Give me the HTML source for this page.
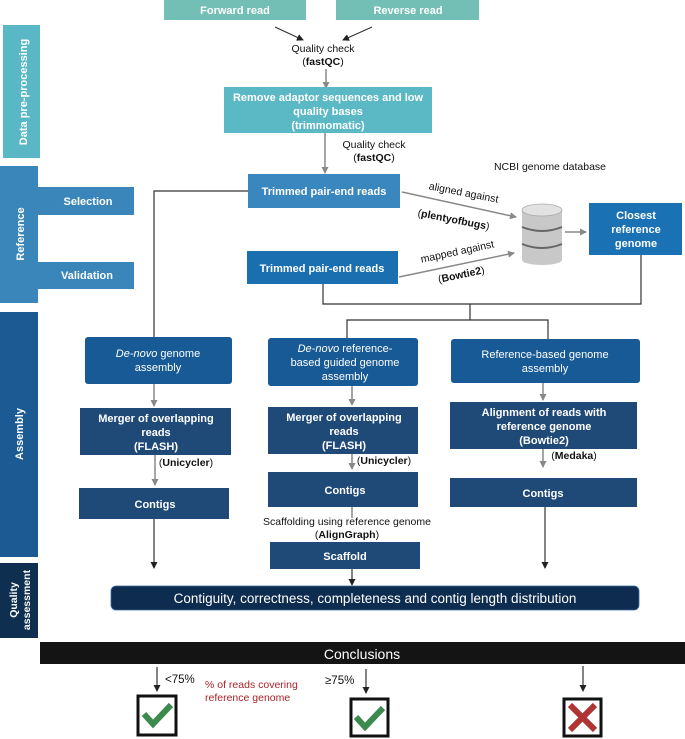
<!DOCTYPE html>
<html><head><meta charset="utf-8"><style>
body{margin:0;background:#fff;}
svg{display:block;font-family:"Liberation Sans",sans-serif;}
.w{fill:#fff;font-weight:bold;font-size:11px;text-anchor:middle}
.n{fill:#fff;font-size:11px;text-anchor:middle}
.k{fill:#111;font-size:10.5px;text-anchor:middle}
.b{font-weight:bold}
.ln{stroke:#333;stroke-width:1.2;fill:none}
.gr{stroke:#888;stroke-width:1.5;fill:none}
</style></head><body>
<svg width="685" height="739" viewBox="0 0 685 739">
<defs>
<marker id="a" markerWidth="8" markerHeight="8" refX="6" refY="4" orient="auto" markerUnits="userSpaceOnUse"><path d="M0,0.5 L7,4 L0,7.5z" fill="#222"/></marker>
<marker id="g" markerWidth="8" markerHeight="8" refX="6" refY="4" orient="auto" markerUnits="userSpaceOnUse"><path d="M0,0.5 L7,4 L0,7.5z" fill="#888"/></marker>
</defs>
<rect x="3" y="25" width="37" height="133" fill="#5ab8c6"/>
<text transform="translate(27,92) rotate(-90)" fill="#fff" font-size="11" font-weight="bold" text-anchor="middle">Data pre-processing</text>
<rect x="0" y="166" width="38" height="137" fill="#3a86bb"/>
<text transform="translate(24,234) rotate(-90)" fill="#fff" font-size="11" font-weight="bold" text-anchor="middle">Reference</text>
<rect x="38" y="187" width="96" height="28" fill="#3a86bb"/>
<text x="88" y="205" class="w">Selection</text>
<rect x="38" y="262" width="96" height="27" fill="#3a86bb"/>
<text x="87" y="279" class="w">Validation</text>
<rect x="0" y="312" width="38" height="245" fill="#1b5a93"/>
<text transform="translate(23,434) rotate(-90)" fill="#fff" font-size="11" font-weight="bold" text-anchor="middle">Assembly</text>
<rect x="0" y="563" width="38" height="75" fill="#0f2f50"/>
<text transform="translate(17,600) rotate(-90)" fill="#fff" font-size="10.5" font-weight="bold" text-anchor="middle">Quality</text>
<text transform="translate(30,600) rotate(-90)" fill="#fff" font-size="10.5" font-weight="bold" text-anchor="middle">assessment</text>
<rect x="164" y="0" width="142" height="20" fill="#73bfb6"/>
<text x="235" y="14" class="w">Forward read</text>
<rect x="336" y="0" width="143" height="20" fill="#73bfb6"/>
<text x="408" y="14" class="w">Reverse read</text>
<line x1="275" y1="27" x2="303" y2="40" class="ln" marker-end="url(#a)"/>
<line x1="372" y1="27" x2="343" y2="40" class="ln" marker-end="url(#a)"/>
<text x="323" y="52" class="k">Quality check</text>
<text x="323" y="65" class="k">(<tspan class="b">fastQC</tspan>)</text>
<line x1="326" y1="69" x2="326" y2="88" class="gr" marker-end="url(#g)"/>
<rect x="224" y="87" width="208" height="46" fill="#5bb8c5"/>
<text x="328" y="101" class="w">Remove adaptor sequences and low</text>
<text x="328" y="115" class="w">quality bases</text>
<text x="328" y="129" class="w">(trimmomatic)</text>
<line x1="325" y1="133" x2="325" y2="173" class="gr" marker-end="url(#g)"/>
<text x="374" y="148" class="k">Quality check</text>
<text x="374" y="161" class="k">(<tspan class="b">fastQC</tspan>)</text>
<text x="550" y="170" class="k">NCBI genome database</text>
<rect x="248" y="174" width="152" height="34" fill="#3a86be"/>
<text x="324" y="195" class="w">Trimmed pair-end reads</text>
<rect x="247" y="251" width="151" height="33" fill="#1a6fb0"/>
<text x="322" y="272" class="w">Trimmed pair-end reads</text>
<line x1="402" y1="192" x2="516" y2="217" class="gr" marker-end="url(#g)"/>
<line x1="399" y1="277" x2="514" y2="253" class="gr" marker-end="url(#g)"/>
<text transform="translate(463,196) rotate(11)" class="k">aligned against</text>
<text transform="translate(453,223) rotate(11)" class="k">(<tspan class="b">plentyofbugs</tspan>)</text>
<text transform="translate(458,255) rotate(-12)" class="k">mapped against</text>
<text transform="translate(462,278) rotate(-12)" class="k">(<tspan class="b">Bowtie2</tspan>)</text>
<rect x="522" y="210" width="40" height="50" fill="#c8c8c8"/>
<ellipse cx="542" cy="260" rx="20" ry="5" fill="#c8c8c8"/>
<ellipse cx="542" cy="210" rx="20" ry="6" fill="#e2e2e2" stroke="#aaa" stroke-width="0.8"/>
<path d="M522,227 Q542,235 562,227" stroke="#666" stroke-width="2" fill="none"/>
<path d="M522,244 Q542,252 562,244" stroke="#666" stroke-width="2" fill="none"/>
<line x1="565" y1="232" x2="586" y2="232" class="gr" marker-end="url(#g)"/>
<rect x="589" y="203" width="93" height="52" fill="#1a72b5"/>
<text x="636" y="219" class="w">Closest</text>
<text x="636" y="233" class="w">reference</text>
<text x="636" y="247" class="w">genome</text>
<polyline points="248,191 154,191 154,337" class="ln"/>
<polyline points="323,284 323,304 641,304 641,255" class="ln"/>
<line x1="470" y1="304" x2="470" y2="320" class="ln"/>
<polyline points="347,338 347,320 548,320 548,339" class="ln"/>
<rect x="85" y="337" width="147" height="47" rx="3" fill="#175a95"/>
<text x="158" y="357" class="n"><tspan font-style="italic">De-novo</tspan> genome</text>
<text x="158" y="371" class="n">assembly</text>
<rect x="268" y="338" width="150" height="48" rx="3" fill="#175a95"/>
<text x="345" y="352" class="n"><tspan font-style="italic">De-novo</tspan> reference-</text>
<text x="345" y="366" class="n">based guided genome</text>
<text x="345" y="380" class="n">assembly</text>
<rect x="451" y="339" width="189" height="44" rx="3" fill="#175a95"/>
<text x="545" y="358" class="n">Reference-based genome</text>
<text x="545" y="372" class="n">assembly</text>
<line x1="154" y1="384" x2="154" y2="406" class="gr" marker-end="url(#g)"/>
<line x1="352" y1="386" x2="352" y2="405" class="gr" marker-end="url(#g)"/>
<line x1="543" y1="383" x2="543" y2="400" class="gr" marker-end="url(#g)"/>
<rect x="80" y="408" width="151" height="47" fill="#1f4a78"/>
<text x="156" y="422" class="w">Merger of overlapping</text>
<text x="156" y="436" class="w">reads</text>
<text x="156" y="450" class="w">(FLASH)</text>
<rect x="268" y="407" width="150" height="47" fill="#1f4a78"/>
<text x="344" y="421" class="w">Merger of overlapping</text>
<text x="344" y="435" class="w">reads</text>
<text x="344" y="449" class="w">(FLASH)</text>
<rect x="450" y="402" width="187" height="47" fill="#1f4a78"/>
<text x="544" y="416" class="w">Alignment of reads with</text>
<text x="544" y="430" class="w">reference genome</text>
<text x="544" y="444" class="w">(Bowtie2)</text>
<line x1="155" y1="455" x2="155" y2="485" class="gr" marker-end="url(#g)"/>
<text x="186" y="466" class="k">(<tspan class="b">Unicycler</tspan>)</text>
<line x1="352" y1="454" x2="352" y2="469" class="gr" marker-end="url(#g)"/>
<text x="384" y="464" class="k">(<tspan class="b">Unicycler</tspan>)</text>
<line x1="543" y1="449" x2="543" y2="467" class="gr" marker-end="url(#g)"/>
<text x="574" y="459" class="k">(<tspan class="b">Medaka</tspan>)</text>
<rect x="79" y="488" width="150" height="31" fill="#1f4a78"/>
<text x="155" y="508" class="w">Contigs</text>
<rect x="268" y="472" width="150" height="35" fill="#1f4a78"/>
<text x="345" y="494" class="w">Contigs</text>
<rect x="450" y="478" width="187" height="29" fill="#1f4a78"/>
<text x="543" y="497" class="w">Contigs</text>
<line x1="352" y1="507" x2="352" y2="518" class="gr"/>
<text x="347" y="525" class="k">Scaffolding using reference genome</text>
<text x="347" y="538" class="k">(<tspan class="b">AlignGraph</tspan>)</text>
<rect x="270" y="542" width="150" height="27" fill="#1f4a78"/>
<text x="345" y="560" class="w">Scaffold</text>
<line x1="352" y1="569" x2="352" y2="585" class="ln" marker-end="url(#a)"/>
<line x1="154" y1="519" x2="154" y2="568" class="ln" marker-end="url(#a)"/>
<line x1="545" y1="507" x2="545" y2="568" class="ln" marker-end="url(#a)"/>
<rect x="111" y="586" width="528" height="24" rx="5" fill="#0d2c4f" stroke="#3a6ea0" stroke-width="0.8"/>
<text x="375" y="603" fill="#fff" font-size="13.5" text-anchor="middle">Contiguity, correctness, completeness and contig length distribution</text>
<rect x="40" y="642" width="645" height="22" fill="#141414"/>
<text x="362" y="659" fill="#fff" font-size="14" text-anchor="middle">Conclusions</text>
<line x1="157" y1="667" x2="157" y2="691" class="ln" marker-end="url(#a)"/>
<line x1="366" y1="669" x2="366" y2="693" class="ln" marker-end="url(#a)"/>
<line x1="583" y1="666" x2="583" y2="691" class="ln" marker-end="url(#a)"/>
<text x="165" y="683" fill="#111" font-size="11.5">&lt;75%</text>
<text x="325" y="684" fill="#111" font-size="11.5">≥75%</text>
<text x="205" y="688" fill="#a8222a" font-size="10.5">% of reads covering</text>
<text x="205" y="701" fill="#a8222a" font-size="10.5">reference genome</text>
<rect x="138" y="696" width="38" height="39" fill="#fff" stroke="#111" stroke-width="3"/>
<path d="M144,714 L153,724 L171,705" stroke="#3d8a4e" stroke-width="6" fill="none"/>
<rect x="351" y="699" width="37" height="37" fill="#fff" stroke="#111" stroke-width="3"/>
<path d="M356,717 L365,727 L383,708" stroke="#3d8a4e" stroke-width="6" fill="none"/>
<rect x="564" y="699" width="37" height="37" fill="#fff" stroke="#111" stroke-width="3"/>
<path d="M570,705 L595,730 M595,705 L570,730" stroke="#b03434" stroke-width="6" fill="none"/>
</svg>
</body></html>
